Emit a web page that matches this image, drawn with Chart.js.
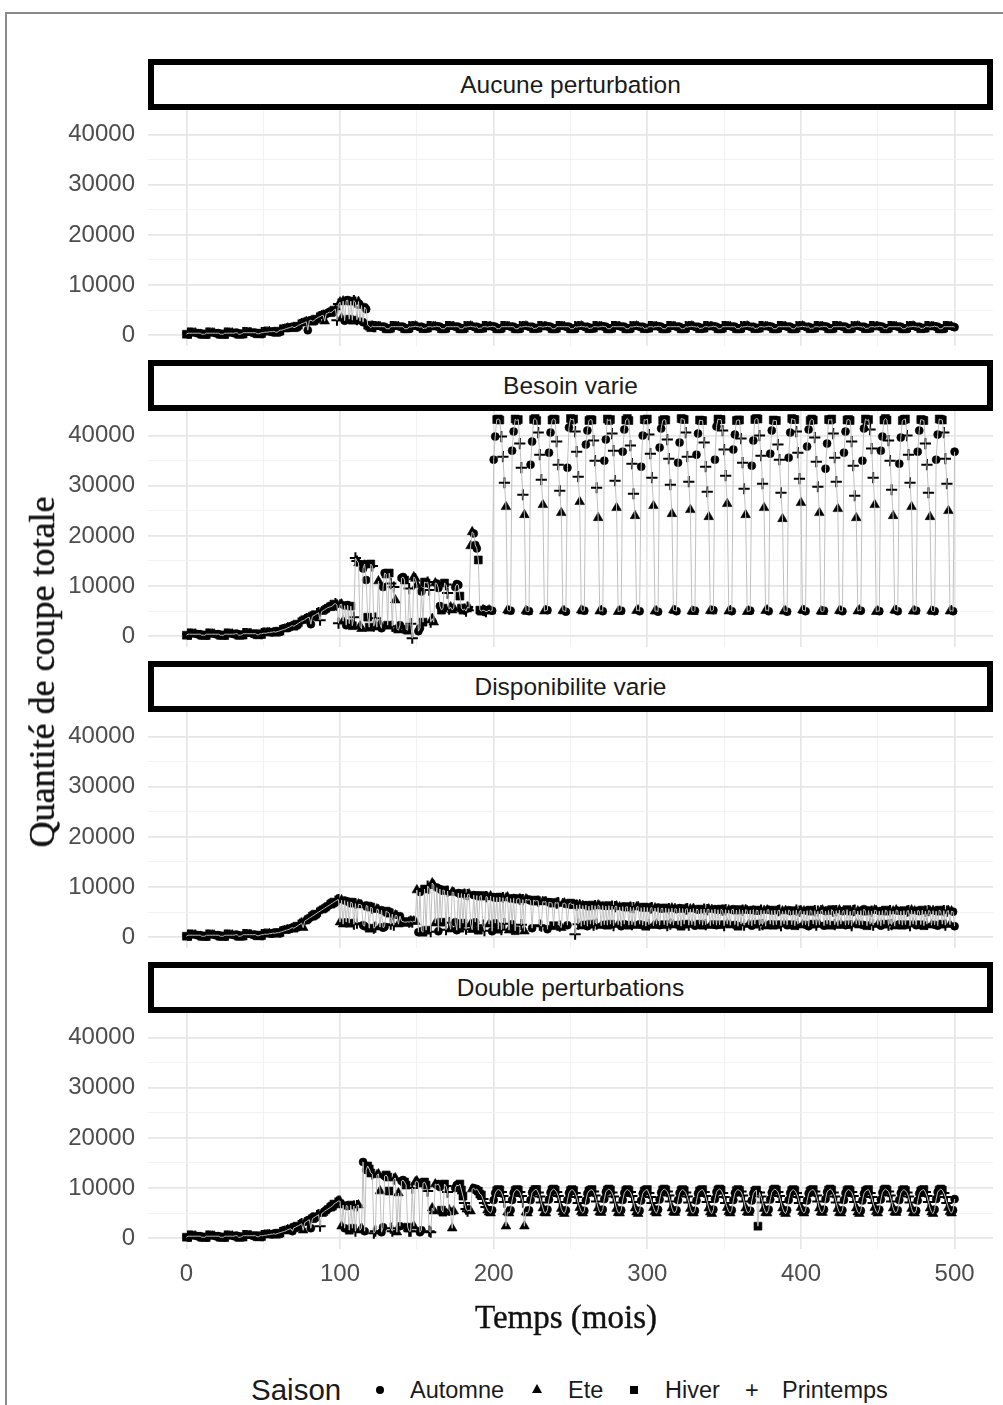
<!DOCTYPE html>
<html>
<head>
<meta charset="utf-8">
<script src="https://cdn.jsdelivr.net/npm/chart.js@4/dist/chart.umd.min.js"></script>
<style>
  html, body { margin:0; padding:0; background:#fff; }
  body { width:1003px; height:1405px; position:relative; overflow:hidden; font-family:"Liberation Sans", Arial, sans-serif; }
  .frame { position:absolute; left:5px; top:12px; width:1010px; height:1410px; border-left:2px solid #8a8a8a; border-top:2px solid #8a8a8a; }
  .strip { position:absolute; left:148px; width:845px; height:51px; box-sizing:border-box; border:6px solid #000; background:#fff;
           font-size:24.5px; color:#1a1a1a; text-align:center; line-height:39px; }
  canvas { position:absolute; left:0; }
  .ytitle { position:absolute; left:42px; top:672px; transform:translate(-50%,-50%) rotate(-90deg); white-space:nowrap;
            font-family:"Liberation Serif", "DejaVu Serif", serif; font-size:36px; color:#111; -webkit-text-stroke:0.4px #111; }
  .xtitle { position:absolute; left:566px; top:1317px; transform:translate(-50%,-50%); white-space:nowrap;
            font-family:"Liberation Serif", "DejaVu Serif", serif; font-size:33px; color:#111; -webkit-text-stroke:0.4px #111; }
  .lg { position:absolute; top:1373px; height:34px; line-height:34px; font-size:23.5px; color:#1a1a1a; white-space:nowrap; }
  .sym { position:absolute; }
</style>
</head>
<body>
<div class="frame"></div>

<div class="strip" style="top:59px">Aucune perturbation</div>
<div class="strip" style="top:360px">Besoin varie</div>
<div class="strip" style="top:661px">Disponibilite varie</div>
<div class="strip" style="top:962px">Double perturbations</div>

<canvas id="p0" width="1003" height="292" style="top:82px;width:1003px;height:292px"></canvas>
<canvas id="p1" width="1003" height="292" style="top:383px;width:1003px;height:292px"></canvas>
<canvas id="p2" width="1003" height="292" style="top:684px;width:1003px;height:292px"></canvas>
<canvas id="p3" width="1003" height="316" style="top:985px;width:1003px;height:316px"></canvas>

<div class="ytitle">Quantité de coupe totale</div>
<div class="xtitle">Temps (mois)</div>

<div class="lg" style="left:251px;font-size:29.5px">Saison</div>
<div class="sym" style="left:376px;top:1386px;width:8px;height:8px;border-radius:50%;background:#000"></div>
<div class="lg" style="left:410px">Automne</div>
<div class="sym" style="left:532px;top:1384px;width:0;height:0;border-left:5px solid transparent;border-right:5px solid transparent;border-bottom:9px solid #000"></div>
<div class="lg" style="left:568px">Ete</div>
<div class="sym" style="left:630px;top:1386px;width:8px;height:8px;background:#000"></div>
<div class="lg" style="left:665px">Hiver</div>
<div class="lg" style="left:745px">+</div>
<div class="lg" style="left:782px">Printemps</div>

<script>
// ---------- DATA (values in thousands, one row = one year, months 0..500) ----------
const saisons = ['Automne', 'Ete', 'Hiver', 'Printemps'];
// season of the month, by position in the yearly cycle (month % 12)
const cycleSaison = ['Hiver','Printemps','Printemps','Printemps','Ete','Ete','Ete','Automne','Automne','Automne','Hiver','Hiver'];
const panelTitles = ['Aucune perturbation', 'Besoin varie', 'Disponibilite varie', 'Double perturbations'];
const yTickLabels = [0, 10000, 20000, 30000, 40000];
const yGridBreaks = [0, 5000, 10000, 15000, 20000, 25000, 30000, 35000, 40000];
const xTickLabels = [0, 100, 200, 300, 400, 500];
const xGridBreaks = [0, 50, 100, 150, 200, 250, 300, 350, 400, 450, 500];

const aucune = [
0.2,0.4,0.4,0.4,0.4,0.4,0.4,0.4,0.4,0.4,0.2,0.2,
0.2,0.4,0.4,0.4,0.4,0.4,0.4,0.4,0.4,0.4,0.2,0.2,
0.2,0.4,0.4,0.4,0.4,0.4,0.4,0.4,0.5,0.5,0.2,0.2,
0.3,0.5,0.5,0.5,0.5,0.5,0.5,0.5,0.5,0.5,0.3,0.3,
0.4,0.5,0.5,0.6,0.6,0.6,0.7,0.7,0.7,0.8,0.6,0.6,
0.8,1.0,1.0,1.1,1.2,1.3,1.4,1.5,1.6,1.7,1.5,1.6,
1.8,2.0,2.1,2.3,2.4,2.5,2.7,1.0,2.9,3.0,2.8,2.9,
3.2,3.4,3.6,3.7,3.9,4.0,2.8,4.3,4.4,4.6,4.5,4.7,
5.0,5.2,3.0,6.2,6.6,3.4,6.8,2.9,6.9,7.0,3.2,6.8,
3.0,6.9,6.6,3.1,6.7,2.8,5.9,2.6,5.6,5.2,2.0,1.8,
1.5,1.8,1.7,1.7,1.7,1.7,1.7,1.7,1.7,1.7,1.3,1.3,
1.3,1.7,1.7,1.7,1.7,1.7,1.7,1.7,1.7,1.7,1.3,1.3,
1.3,1.7,1.6,1.7,1.7,1.8,1.7,1.7,1.6,1.7,1.3,1.4,
1.4,1.7,1.7,1.7,1.6,1.7,1.7,1.8,1.7,1.7,1.3,1.3,
1.3,1.7,1.7,1.7,1.7,1.7,1.7,1.7,1.7,1.7,1.3,1.3,
1.3,1.7,1.6,1.7,1.7,1.8,1.7,1.7,1.6,1.7,1.3,1.4,
1.4,1.7,1.7,1.7,1.6,1.7,1.7,1.8,1.7,1.7,1.3,1.3,
1.3,1.7,1.7,1.7,1.7,1.7,1.7,1.7,1.7,1.7,1.3,1.3,
1.3,1.7,1.6,1.7,1.7,1.8,1.7,1.7,1.6,1.7,1.3,1.4,
1.4,1.7,1.7,1.7,1.6,1.7,1.7,1.8,1.7,1.7,1.3,1.3,
1.3,1.7,1.7,1.7,1.7,1.7,1.7,1.7,1.7,1.7,1.3,1.3,
1.3,1.7,1.6,1.7,1.7,1.8,1.7,1.7,1.6,1.7,1.3,1.4,
1.4,1.7,1.7,1.7,1.6,1.7,1.7,1.8,1.7,1.7,1.3,1.3,
1.3,1.7,1.7,1.7,1.7,1.7,1.7,1.7,1.7,1.7,1.3,1.3,
1.3,1.7,1.6,1.7,1.7,1.8,1.7,1.7,1.6,1.7,1.3,1.4,
1.4,1.7,1.7,1.7,1.6,1.7,1.7,1.8,1.7,1.7,1.3,1.3,
1.3,1.7,1.7,1.7,1.7,1.7,1.7,1.7,1.7,1.7,1.3,1.3,
1.3,1.7,1.6,1.7,1.7,1.8,1.7,1.7,1.6,1.7,1.3,1.4,
1.4,1.7,1.7,1.7,1.6,1.7,1.7,1.8,1.7,1.7,1.3,1.3,
1.3,1.7,1.7,1.7,1.7,1.7,1.7,1.7,1.7,1.7,1.3,1.3,
1.3,1.7,1.6,1.7,1.7,1.8,1.7,1.7,1.6,1.7,1.3,1.4,
1.4,1.7,1.7,1.7,1.6,1.7,1.7,1.8,1.7,1.7,1.3,1.3,
1.3,1.7,1.7,1.7,1.7,1.7,1.7,1.7,1.7,1.7,1.3,1.3,
1.3,1.7,1.6,1.7,1.7,1.8,1.7,1.7,1.6,1.7,1.3,1.4,
1.4,1.7,1.7,1.7,1.6,1.7,1.7,1.8,1.7,1.7,1.3,1.3,
1.3,1.7,1.7,1.7,1.7,1.7,1.7,1.7,1.7,1.7,1.3,1.3,
1.3,1.7,1.6,1.7,1.7,1.8,1.7,1.7,1.6,1.7,1.3,1.4,
1.4,1.7,1.7,1.7,1.6,1.7,1.7,1.8,1.7,1.7,1.3,1.3,
1.3,1.7,1.7,1.7,1.7,1.7,1.7,1.7,1.7,1.7,1.3,1.3,
1.3,1.7,1.6,1.7,1.7,1.8,1.7,1.7,1.6,1.7,1.3,1.4,
1.4,1.7,1.7,1.7,1.6,1.7,1.7,1.8,1.7,1.7,1.3,1.3,
1.3,1.7,1.7,1.7,1.7,1.7,1.7,1.7,1.6
];

const besoin = [
0.2,0.4,0.4,0.4,0.4,0.4,0.4,0.4,0.4,0.4,0.2,0.2,
0.2,0.4,0.4,0.4,0.4,0.4,0.4,0.4,0.4,0.4,0.2,0.2,
0.2,0.4,0.4,0.4,0.4,0.4,0.4,0.4,0.5,0.5,0.2,0.2,
0.3,0.5,0.5,0.5,0.5,0.5,0.5,0.5,0.5,0.5,0.3,0.3,
0.5,0.5,0.6,0.6,0.6,0.7,0.7,0.8,0.8,0.9,0.8,0.9,
1.0,1.1,1.2,1.3,1.4,1.5,1.7,1.8,2.0,2.1,2.0,2.2,
2.4,2.6,2.8,3.0,3.1,3.3,3.5,3.7,3.8,2.4,4.0,4.1,
4.3,4.5,4.7,3.2,4.9,5.1,5.3,5.5,5.7,5.8,5.9,6.0,
6.4,6.5,6.2,2.6,6.3,6.4,3.0,6.1,2.2,6.2,2.5,6.0,
2.1,3.8,15.6,15.0,14.6,2.0,1.5,13.5,14.4,11.2,3.8,1.8,
14.4,14.0,2.0,3.6,1.8,11.0,2.4,1.6,9.8,12.6,12.4,2.2,
12.6,10.5,2.0,9.8,7.2,1.5,1.2,2.2,11.6,11.8,11.2,1.4,
1.2,9.5,2.5,-0.4,11.8,11.5,10.2,1.0,1.6,8.9,2.8,10.8,
10.6,10.8,9.2,2.8,3.5,2.8,10.6,10.5,9.6,6.0,5.2,5.6,
10.6,10.3,8.6,5.4,5.8,5.2,5.6,9.8,10.4,10.2,8.0,5.6,
5.2,5.4,5.0,5.8,5.6,18.0,20.8,20.5,18.2,17.5,15.2,5.2,
5.0,5.2,5.1,4.9,5.0,5.2,5.0,5.1,35.2,39.8,43.2,43.3,
43.1,39.8,35.8,30.6,25.8,5.2,5.0,5.1,37.0,40.8,43.3,43.0,
43.2,38.4,33.6,28.2,24.2,5.1,4.9,5.0,34.2,38.8,43.2,43.4,
43.0,40.6,36.2,31.2,26.2,5.0,5.1,5.2,36.6,40.6,43.1,43.3,
43.2,38.8,34.2,29.0,24.6,5.1,5.0,4.9,33.6,41.6,43.4,43.1,
43.3,40.8,36.8,31.8,26.8,5.2,5.0,5.1,38.2,41.0,43.0,43.2,
43.1,39.0,35.0,29.6,23.6,5.0,5.1,5.0,35.0,39.2,43.3,43.0,
43.2,40.4,37.0,31.0,25.6,4.9,5.0,5.1,36.8,41.2,43.1,43.4,
43.0,38.0,34.4,28.4,24.0,5.1,5.2,5.0,33.8,40.0,43.2,43.1,
43.3,40.2,36.4,31.6,26.0,5.0,5.0,4.9,37.6,41.4,43.0,43.2,
43.1,39.2,35.4,30.2,24.4,5.2,5.1,5.0,34.6,38.6,43.4,43.3,
43.2,40.6,35.8,30.8,25.2,5.0,4.9,5.1,36.2,40.4,43.1,43.0,
43.0,38.6,33.8,28.8,23.8,5.1,5.0,5.2,35.2,41.8,43.3,43.2,
43.2,41.0,37.2,32.0,26.4,5.0,5.1,5.0,37.2,40.2,43.0,43.1,
43.1,39.4,34.6,29.4,24.2,4.9,5.0,5.1,34.0,39.0,43.2,43.4,
43.3,40.0,36.0,30.4,25.6,5.1,5.2,5.0,36.4,41.0,43.1,43.0,
43.0,38.2,35.2,28.6,23.4,5.0,5.0,4.9,35.6,40.6,43.4,43.2,
43.2,40.8,36.6,31.4,26.6,5.2,5.1,5.0,37.8,41.2,43.0,43.3,
43.1,39.6,34.8,29.8,24.6,5.0,4.9,5.1,33.4,38.4,43.2,43.1,
43.3,40.4,35.6,30.8,25.4,5.1,5.0,5.0,36.6,40.8,43.1,43.2,
43.0,38.8,34.0,28.0,23.6,5.0,5.2,5.1,35.0,41.4,43.3,43.0,
43.2,41.2,37.4,31.6,26.2,4.9,5.0,5.0,37.0,39.8,43.1,43.4,
43.1,39.0,35.0,29.2,24.0,5.2,5.1,5.0,34.4,39.6,43.0,43.2,
43.3,40.0,36.2,30.6,25.8,5.0,5.0,5.1,36.8,41.0,43.2,43.1,
43.0,38.4,34.2,28.6,23.8,5.1,4.9,5.0,35.2,40.2,43.3,43.2,
43.1,40.6,35.4,30.4,25.0,5.0,5.1,5.0,36.8
];

const dispo = [
0.2,0.4,0.4,0.4,0.4,0.4,0.4,0.4,0.4,0.4,0.2,0.2,
0.2,0.4,0.4,0.4,0.4,0.4,0.4,0.4,0.4,0.4,0.2,0.2,
0.2,0.4,0.4,0.4,0.4,0.4,0.4,0.4,0.5,0.5,0.2,0.2,
0.3,0.5,0.5,0.5,0.5,0.5,0.5,0.5,0.5,0.5,0.3,0.3,
0.4,0.5,0.5,0.6,0.6,0.6,0.7,0.7,0.8,0.8,0.8,0.9,
0.9,1.0,1.1,1.2,1.3,1.4,1.5,1.6,1.8,1.9,1.8,2.0,
2.2,2.4,2.6,2.8,1.9,3.2,3.4,3.6,3.8,4.0,4.2,4.4,
4.6,4.8,5.0,5.2,5.4,5.6,5.8,6.0,6.2,6.4,6.6,6.8,
7.0,7.2,7.4,7.5,3.0,7.4,2.6,7.3,3.0,7.1,2.8,7.0,
6.8,2.6,6.7,2.8,6.6,6.5,6.4,2.4,2.2,6.3,6.2,1.8,
6.0,5.8,1.8,2.0,5.6,5.5,2.0,5.4,1.9,2.1,5.2,5.0,
4.8,2.6,4.6,2.4,4.4,4.3,2.6,4.2,3.2,3.1,3.0,3.0,
3.1,3.0,3.2,3.0,3.2,3.1,9.4,1.0,9.0,1.2,1.0,9.6,
1.4,10.2,9.8,1.1,10.8,10.4,2.8,9.9,1.2,9.6,3.0,9.4,
9.3,1.5,9.2,2.9,1.6,9.0,8.9,3.0,1.4,8.8,1.8,8.7,
2.8,8.6,1.6,8.5,8.6,2.6,1.5,8.4,3.0,8.3,1.4,8.2,
8.3,2.4,1.3,8.1,8.0,2.6,8.2,1.2,8.0,2.8,7.9,1.6,
8.0,1.5,7.9,2.7,7.8,8.0,1.4,7.7,2.6,7.8,1.3,7.6,
7.7,7.6,2.5,7.5,1.2,7.6,7.4,7.5,7.3,1.8,7.4,7.2,
7.3,7.2,2.4,2.2,7.1,7.0,7.1,1.6,7.0,6.9,6.8,2.3,
6.9,6.8,6.9,2.2,1.9,6.7,6.8,6.6,2.4,6.7,6.8,6.5,
6.6,0.6,6.4,2.6,6.5,2.2,6.3,2.5,6.4,2.2,6.2,2.6,
6.4,2.4,6.3,2.6,6.4,6.2,2.3,6.3,2.5,6.2,2.4,6.3,
2.6,6.2,2.3,6.1,6.2,2.5,6.0,2.2,6.1,2.6,6.0,6.1,
2.4,6.0,2.5,5.9,2.3,6.0,6.1,2.6,5.9,2.4,6.0,2.2,
5.9,2.5,5.8,5.9,2.3,5.8,2.6,5.9,2.4,5.7,5.8,2.5,
5.8,2.3,5.7,2.6,5.8,2.4,5.7,5.6,2.5,5.8,2.2,5.7,
2.6,5.6,5.7,2.4,5.6,2.5,5.7,2.3,5.6,5.5,2.6,5.6,
2.4,5.6,2.5,5.5,5.6,2.3,5.5,2.6,5.6,2.4,5.5,2.5,
5.6,5.4,2.3,5.5,2.6,5.4,2.4,5.5,5.6,2.5,5.4,2.2,
5.5,2.6,5.4,2.4,5.5,5.3,2.5,5.4,2.3,5.5,2.6,5.4,
5.3,2.4,5.4,2.5,5.3,2.2,5.4,5.5,2.6,5.3,2.4,5.4,
2.5,5.3,5.4,2.3,5.2,2.6,5.3,2.4,5.4,5.2,2.5,5.3,
2.3,5.4,2.6,5.2,5.3,2.4,5.2,2.5,5.3,2.2,5.4,5.2,
2.6,5.3,2.4,5.2,2.5,5.3,5.4,2.3,5.2,2.6,5.3,2.4,
5.5,5.2,2.5,5.3,2.3,5.4,2.6,5.2,5.3,2.4,5.5,2.5,
5.2,2.3,5.3,5.4,2.6,5.2,2.4,5.3,2.5,5.6,5.2,2.3,
5.3,2.6,5.2,2.4,5.4,5.3,2.5,5.2,2.3,5.3,2.6,5.4,
5.2,2.4,5.3,2.5,5.2,2.2,5.4,5.3,2.6,5.2,2.4,5.3,
2.5,5.2,5.3,2.3,5.4,2.6,5.2,2.4,5.3,5.2,2.5,5.4,
2.3,5.2,2.6,5.3,5.2,2.4,5.3,2.5,5.2,2.3,5.4,5.2,
2.6,5.3,2.4,5.2,5.3,2.5,5.2,5.1,2.2
];

const double = [
0.2,0.4,0.4,0.4,0.4,0.4,0.4,0.4,0.4,0.4,0.2,0.2,
0.2,0.4,0.4,0.4,0.4,0.4,0.4,0.4,0.4,0.4,0.2,0.2,
0.2,0.4,0.4,0.4,0.4,0.4,0.4,0.4,0.5,0.5,0.2,0.2,
0.3,0.5,0.5,0.5,0.5,0.5,0.5,0.5,0.5,0.5,0.3,0.3,
0.5,0.5,0.5,0.6,0.6,0.7,0.7,0.8,0.8,0.9,0.8,0.9,
1.0,1.1,1.2,1.3,1.4,1.5,1.7,1.8,1.9,1.4,2.1,2.2,
2.4,2.5,2.7,2.9,1.6,3.1,3.3,3.5,3.7,2.0,3.9,4.1,
4.3,4.5,4.7,2.4,4.9,5.1,5.4,5.6,5.8,6.0,6.2,6.4,
6.8,7.0,7.2,7.4,7.4,2.4,6.6,2.0,6.5,6.4,1.6,6.6,
2.0,6.4,1.4,6.5,6.6,1.6,2.0,15.2,1.4,13.6,14.4,13.8,
13.0,12.8,1.0,1.4,12.6,12.8,9.4,1.2,2.2,12.4,12.6,12.2,
9.4,2.0,1.4,11.8,12.0,1.2,9.0,2.4,11.4,11.6,11.2,10.6,
2.2,1.4,1.4,10.0,2.4,11.2,11.4,11.0,1.2,1.6,11.0,11.2,
10.6,9.4,1.4,1.2,6.0,5.4,10.8,10.6,10.8,10.2,5.6,5.2,
10.8,10.4,9.2,5.6,5.2,2.0,5.4,10.0,10.6,10.4,10.8,9.6,
8.4,7.0,5.8,5.4,5.6,5.4,9.8,10.0,9.6,9.8,9.4,8.8,
8.6,7.8,7.0,6.2,5.6,5.2,5.0,5.6,7.6,9.0,9.5,9.7,
9.6,9.2,8.4,7.2,2.4,5.2,5.0,5.6,7.6,9.0,9.5,9.7,
9.6,9.2,8.4,7.2,2.4,5.2,5.0,5.6,7.6,9.1,9.4,9.7,
9.7,9.1,8.3,7.1,6.0,5.1,5.0,5.7,7.7,9.1,9.6,9.8,
9.6,9.2,8.4,7.2,5.9,5.2,4.9,5.6,7.6,9.0,9.5,9.7,
9.5,9.0,8.2,7.0,6.1,5.3,5.0,5.5,7.5,8.9,9.4,9.6,
9.7,9.3,8.5,7.3,6.0,5.2,5.1,5.7,7.8,9.2,9.6,9.8,
9.6,9.1,8.3,7.1,5.9,5.1,5.0,5.6,7.6,9.0,9.5,9.7,
9.5,9.2,8.4,7.2,6.0,5.2,4.9,5.5,7.5,8.9,9.4,9.6,
9.7,9.0,8.2,7.0,6.1,5.3,5.0,5.7,7.7,9.1,9.6,9.8,
9.6,9.3,8.5,7.3,6.0,5.2,5.1,5.6,7.6,9.0,9.5,9.7,
9.5,9.1,8.3,7.1,5.9,5.1,5.0,5.5,7.5,8.9,9.4,9.6,
9.7,9.2,8.4,7.2,6.0,5.2,4.9,5.7,7.8,9.2,9.6,9.8,
9.6,9.0,8.2,7.0,6.1,5.3,5.0,5.6,7.6,9.0,9.5,9.7,
9.5,9.3,8.5,7.3,6.0,5.2,5.1,5.5,7.5,8.9,9.4,9.6,
2.4,9.1,8.3,7.1,5.9,5.1,5.0,5.7,7.7,9.1,9.6,9.8,
9.6,9.2,8.4,7.2,6.0,5.2,4.9,5.6,7.6,9.0,9.5,9.7,
9.5,9.0,8.2,7.0,6.1,5.3,5.0,5.5,7.5,8.9,9.4,9.6,
9.7,9.3,8.5,7.3,6.0,5.2,5.1,5.7,7.8,9.2,9.6,9.8,
9.6,9.1,8.3,7.1,5.9,5.1,5.0,5.6,7.6,9.0,9.5,9.7,
9.5,9.2,8.4,7.2,6.0,5.2,4.9,5.5,7.5,8.9,9.4,9.6,
9.7,9.0,8.2,7.0,6.1,5.3,5.0,5.7,7.7,9.1,9.6,9.8,
9.6,9.3,8.5,7.3,6.0,5.2,5.1,5.6,7.6,9.0,9.5,9.7,
9.5,9.1,8.3,7.1,5.9,5.1,5.0,5.5,7.5,8.9,9.4,9.6,
9.7,9.2,8.4,7.2,6.0,5.2,4.9,5.7,7.8,9.2,9.6,9.8,
9.6,9.0,8.2,7.0,6.1,5.3,5.0,5.6,7.8
];

// ---------- CHART ----------
Chart.defaults.font.family = '"Liberation Sans", Arial, sans-serif';
Chart.defaults.devicePixelRatio = 1;

const shapes = {
  Automne:   { style: 'circle',   r: 4.0, bw: 0.6 },
  Ete:       { style: 'triangle', r: 5.6, bw: 0.6 },
  Hiver:     { style: 'rect',     r: 5.6, bw: 0.6 },
  Printemps: { style: 'cross',    r: 5.6, bw: 2.0 }
};

function makePanel(id, valuesK, showX) {
  const pts = valuesK.map((v, t) => ({ x: t, y: v * 1000, s: cycleSaison[t % 12] }));
  const datasets = [{
    type: 'scatter', showLine: true, data: pts, borderColor: '#c0c0c0', borderWidth: 1,
    pointRadius: 0, order: 0, tension: 0, fill: false
  }];
  for (const s of saisons) {
    datasets.push({
      type: 'scatter', label: s, data: pts.filter(p => p.s === s),
      pointStyle: shapes[s].style, pointRadius: shapes[s].r, pointBorderWidth: shapes[s].bw,
      backgroundColor: '#000', borderColor: '#000', order: 1
    });
  }
  const isMajor = (ctx, labels) => ctx.tick && labels.includes(ctx.tick.value);
  return new Chart(document.getElementById(id), {
    type: 'scatter',
    data: { datasets },
    options: {
      responsive: false, animation: false, devicePixelRatio: 1,
      layout: { padding: { left: 0, right: 10, top: 28, bottom: showX ? 0 : 28 } },
      plugins: { legend: { display: false }, tooltip: { enabled: false } },
      events: [],
      scales: {
        x: {
          type: 'linear', min: -25, max: 525,
          border: { display: false },
          grid: {
            color: ctx => isMajor(ctx, xTickLabels) ? '#e6e6e6' : '#f1f1f1',
            lineWidth: ctx => isMajor(ctx, xTickLabels) ? 1.7 : 0.9,
            drawTicks: false
          },
          afterBuildTicks: s => { s.ticks = xGridBreaks.map(v => ({ value: v })); },
          ticks: {
            display: showX, autoSkip: false, maxRotation: 0,
            padding: 11, color: '#4d4d4d', font: { size: 24 },
            callback: v => xTickLabels.includes(v) ? String(v) : ''
          },
          afterFit: s => { s.height = showX ? 52 : 0; }
        },
        y: {
          type: 'linear', min: -2150, max: 44900,
          border: { display: false },
          grid: {
            color: ctx => isMajor(ctx, yTickLabels) ? '#e6e6e6' : '#f1f1f1',
            lineWidth: ctx => isMajor(ctx, yTickLabels) ? 1.7 : 0.9,
            drawTicks: false
          },
          afterBuildTicks: s => { s.ticks = yGridBreaks.map(v => ({ value: v })); },
          ticks: {
            autoSkip: false,
            padding: 13, color: '#4d4d4d', font: { size: 24 },
            callback: v => yTickLabels.includes(v) ? String(v) : ''
          },
          afterFit: s => { s.width = 148; }
        }
      }
    }
  });
}

makePanel('p0', aucune, false);
makePanel('p1', besoin, false);
makePanel('p2', dispo, false);
makePanel('p3', double, true);
</script>
</body>
</html>
